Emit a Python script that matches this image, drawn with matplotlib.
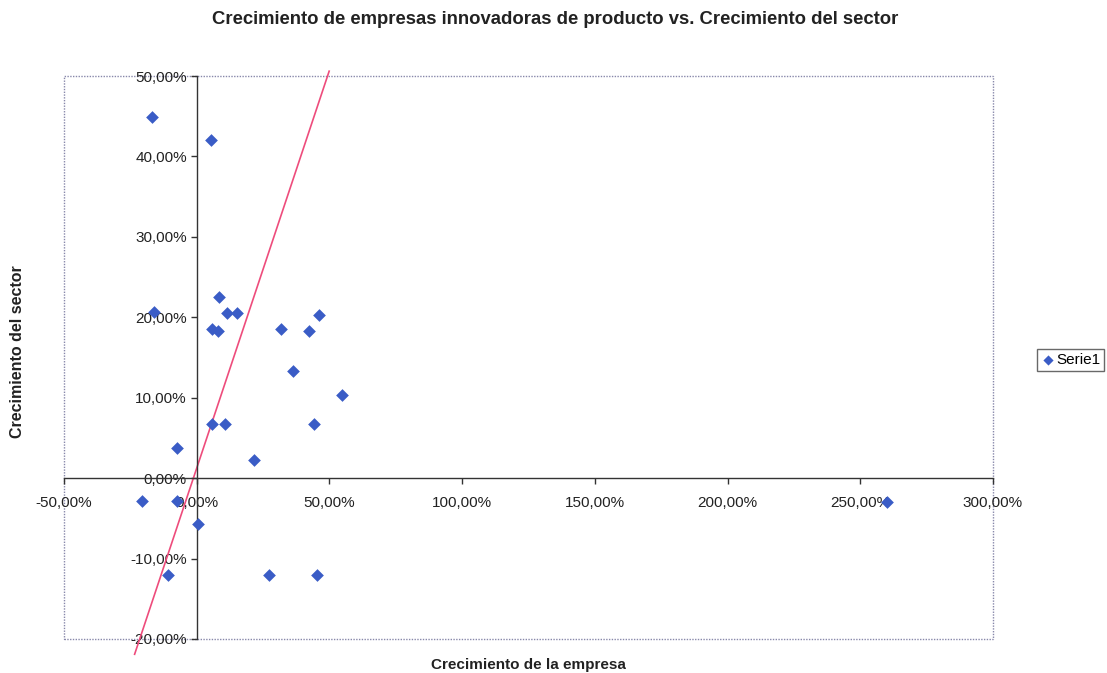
import matplotlib
matplotlib.use("Agg")
import matplotlib.pyplot as plt
from matplotlib.patches import Rectangle

plt.rcParams['font.family'] = ['Liberation Sans', 'DejaVu Sans']

# Growth of each company (%) vs. growth of its sector (%)
empresa = [-16.7, 5.2, 8.3, -16.2, 11.4, 15.1, 46.1, 5.9, 8.0, 31.7, 42.3,
           36.2, 54.6, 5.7, 10.7, 44.3, -7.4, 21.5, -20.5, -7.3, 0.6,
           -11.0, 27.4, 45.5, 260.1]
sector = [44.9, 42.1, 22.5, 20.6, 20.5, 20.5, 20.3, 18.5, 18.3, 18.5, 18.3,
          13.3, 10.3, 6.75, 6.75, 6.7, 3.8, 2.2, -2.9, -2.9, -5.7,
          -12.1, -12.1, -12.1, -3.0]

# Reference line endpoints
linea_x = [-23.4, 49.9]
linea_y = [-21.9, 50.6]

x_ticks = [-50, 0, 50, 100, 150, 200, 250, 300]
x_labels = ["-50,00%", "0,00%", "50,00%", "100,00%", "150,00%", "200,00%", "250,00%", "300,00%"]
y_ticks = [-20, -10, 0, 10, 20, 30, 40, 50]
y_labels = ["-20,00%", "-10,00%", "0,00%", "10,00%", "20,00%", "30,00%", "40,00%", "50,00%"]

W, H = 1107, 673
fig = plt.figure(figsize=(W / 100, H / 100), dpi=100)
left, right, top, bottom = 64, 993, 76, 639
ax = fig.add_axes([left / W, 1 - bottom / H, (right - left) / W, (bottom - top) / H])

ax.set_xlim(x_ticks[0], x_ticks[-1])
ax.set_ylim(y_ticks[0], y_ticks[-1])

ax.scatter(empresa, sector, marker='D', s=42, color='#3A5CC6', zorder=3,
           linewidths=0, label='Serie1', clip_on=False)
ax.plot(linea_x, linea_y, color='#EE4C7C', lw=1.2, zorder=2, clip_on=False)

# Axes cross at the origin
for s in ['top', 'right']:
    ax.spines[s].set_visible(False)
ax.spines['left'].set_position(('data', 0))
ax.spines['bottom'].set_position(('data', 0))
for s in ['left', 'bottom']:
    ax.spines[s].set_color('#333333')
    ax.spines[s].set_linewidth(1.0)

ax.set_xticks(x_ticks)
ax.set_xticklabels(x_labels)
ax.set_yticks(y_ticks)
ax.set_yticklabels(y_labels)
ax.tick_params(axis='both', direction='out', length=4, width=1, color='#333333',
               labelsize=11, labelcolor='#222222')
ax.tick_params(axis='x', pad=9)
ax.tick_params(axis='y', pad=3)

# Plot-area border
ax.add_patch(Rectangle((0, 0), 1, 1, transform=ax.transAxes, fill=False,
                       edgecolor='#8888AA', lw=1.0, linestyle=(0, (1, 1)),
                       zorder=1, clip_on=False))

fig.text(555 / W, 1 - 20 / H, "Crecimiento de empresas innovadoras de producto vs. Crecimiento del sector",
         ha='center', va='center', fontsize=13.3, fontweight='bold', color='#222222')
fig.text(528 / W, 1 - 665 / H, "Crecimiento de la empresa", ha='center', va='center',
         fontsize=11, fontweight='bold', color='#222222')
fig.text(18 / W, 1 - 352 / H, "Crecimiento del sector", ha='center', va='center',
         rotation=90, fontsize=11.5, fontweight='bold', color='#222222')

leg = fig.legend(loc='center left', bbox_to_anchor=(1037 / W, 1 - 360 / H),
                 frameon=True, fancybox=False, fontsize=11, handletextpad=0.0,
                 handlelength=1.0, borderpad=0.25, borderaxespad=0.0,
                 markerscale=0.8)
leg.get_frame().set_edgecolor('#444444')
leg.get_frame().set_linewidth(1.0)

fig.savefig("out.png", dpi=100, facecolor='white')
